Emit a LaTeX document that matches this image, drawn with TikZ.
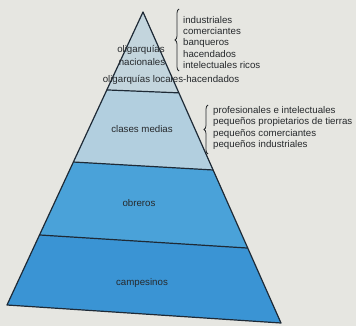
\documentclass[tikz,border=0pt]{standalone}
\usepackage{fontspec}
\setmainfont{Liberation Sans}
\usetikzlibrary{calc,decorations.pathreplacing}
\definecolor{bg}{HTML}{E6E6E1}
\definecolor{topc}{HTML}{C3D5DD}
\definecolor{midc}{HTML}{B2CFDF}
\definecolor{obrc}{HTML}{4AA2D9}
\definecolor{camc}{HTML}{3A94D4}
\definecolor{edge}{HTML}{1E2A36}
\definecolor{txt}{HTML}{26292C}
\tikzset{
  lbl/.style={font=\fontsize{9.7}{11.3}\selectfont, text=txt, inner sep=0pt},
  listtxt/.style={lbl, anchor=west, align=left},
  bandline/.style={draw=edge, line width=1.2pt},
  bracestyle/.style={draw=txt, line width=0.8pt, decorate, decoration={brace, amplitude=4pt}}
}
\begin{document}
\begin{tikzpicture}[x=1pt,y=-1pt]
\fill[bg] (0,0) rectangle (356,326);
\useasboundingbox (0,0) rectangle (356,326);
\coordinate (A) at (143,12);
\coordinate (BL) at (7,305);
\coordinate (BR) at (281,323);
\coordinate (L1) at ($(A)!0.266!(BL)$);
\coordinate (R1) at ($(A)!0.26!(BR)$);
\coordinate (L2) at ($(A)!0.512!(BL)$);
\coordinate (R2) at ($(A)!0.508!(BR)$);
\coordinate (L3) at ($(A)!0.761!(BL)$);
\coordinate (R3) at ($(A)!0.759!(BR)$);
% fills
\fill[topc] (A) -- (L1) -- (R1) -- cycle;
\fill[midc] (L1) -- (L2) -- (R2) -- (R1) -- cycle;
\fill[obrc] (L2) -- (L3) -- (R3) -- (R2) -- cycle;
\fill[camc] (L3) -- (BL) -- (BR) -- (R3) -- cycle;
% lines
\draw[bandline, line join=round] (BL) -- (A) -- (BR) -- cycle;
\draw[bandline] (L1) -- (R1);
\draw[bandline] (L2) -- (R2);
\draw[bandline] (L3) -- (R3);
% labels
\node[lbl] (olig) at (141,50) {oligarquías};
\node[lbl] (nac) at (142,62) {nacionales};
\node[lbl] (loc) at (171,80) {oligarquías locales-hacendados};
\node[lbl] (med) at (142,129) {clases medias};
\node[lbl] (obr) at (139,203) {obreros};
\node[lbl] (cam) at (142,283) {campesinos};
% braces
\coordinate (b1a) at (179,71);
\coordinate (b1b) at (179,9);
\draw[bracestyle] (b1a) -- (b1b);
\node[listtxt] (list1) at (183,42.5) {industriales\\comerciantes\\banqueros\\hacendados\\intelectuales ricos};
\coordinate (b2a) at (208,154);
\coordinate (b2b) at (208,105);
\draw[bracestyle] (b2a) -- (b2b);
\node[listtxt] (list2) at (213,128) {profesionales e intelectuales\\pequeños propietarios de tierras\\pequeños comerciantes\\pequeños industriales};
\end{tikzpicture}
\end{document}
